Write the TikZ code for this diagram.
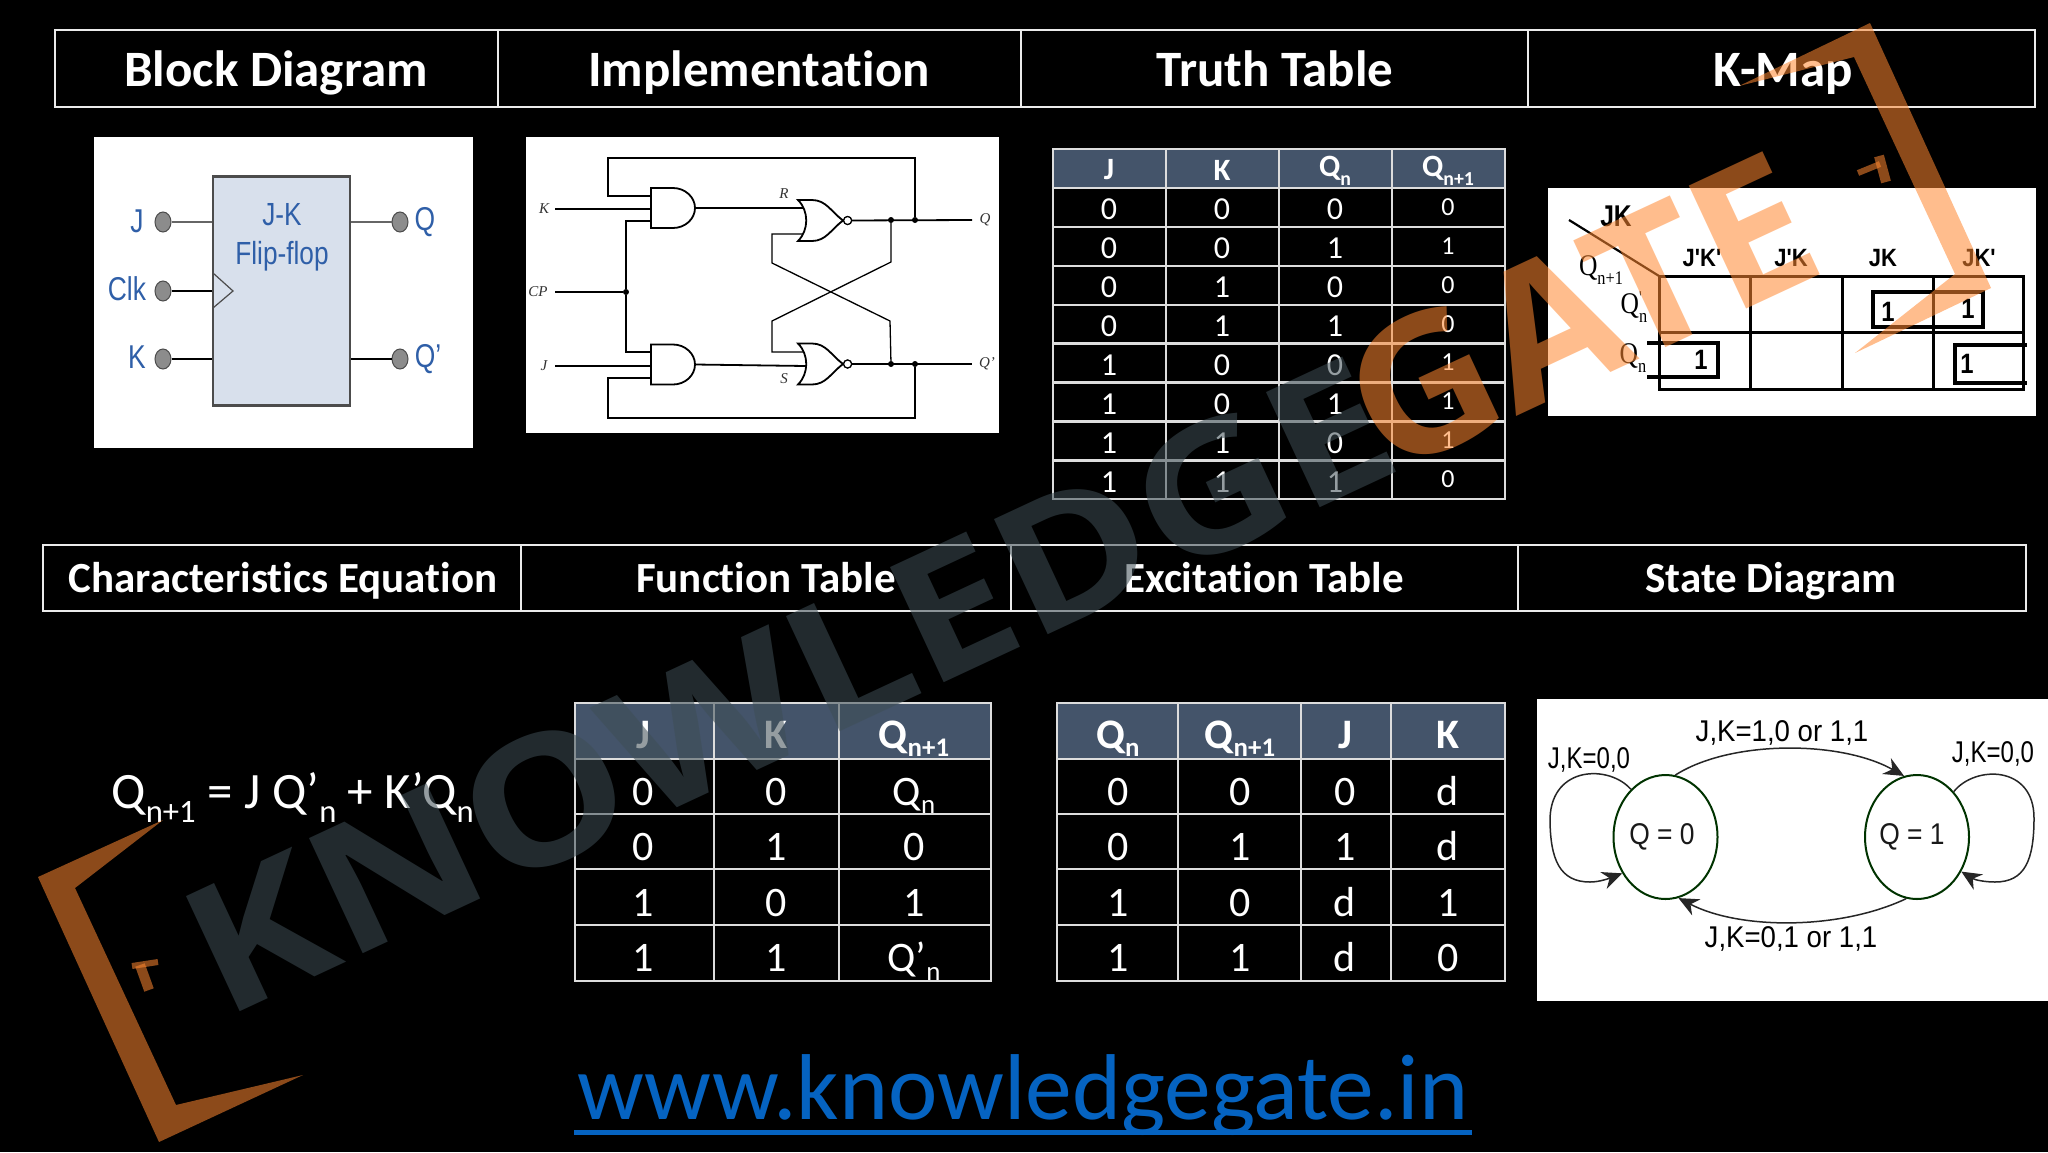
\documentclass[tikz,border=0pt]{standalone}
\usepackage{fontspec}
\usepackage{graphicx}
\setmainfont{Carlito}[Ligatures=NoCommon]
\newfontfamily\arialfont{Liberation Sans}
\newfontfamily\timesfont{Liberation Serif}
\newfontfamily\markfont{Open Sans}
\usetikzlibrary{arrows.meta,shapes.geometric}
\newcommand{\pxfont}[1]{\fontsize{#1}{#1}\selectfont}
\newcommand{\subs}[1]{\raisebox{-.28em}{\scalebox{.64}{#1}}}
\newcommand{\subt}[1]{\raisebox{-.21em}{\scalebox{.64}{#1}}}
\newcommand{\andshape}[1]{\draw[gate] (#1.north west) -- ++(22,0) .. controls +(12,0) and +(0,-11) .. (#1.east) .. controls +(0,11) and +(12,0) .. ([xshift=22pt]#1.south west) -- (#1.south west) -- cycle;}
\newcommand{\norshape}[1]{\draw[gate] (#1.north west) -- ++(14,0) .. controls +(14,0) and +(-12,-9) .. (#1.east) .. controls +(-12,9) and +(14,0) .. ([xshift=14pt]#1.south west) -- (#1.south west) .. controls +(11,-11) and +(11,11) .. (#1.north west) -- cycle;}
\definecolor{headblue}{HTML}{44546A}
\definecolor{tabgrey}{HTML}{DDDDDD}
\definecolor{ffblue}{HTML}{D8E0EC}
\definecolor{ffink}{HTML}{2F5FA8}
\definecolor{urlblue}{HTML}{0563C1}
\definecolor{markdark}{HTML}{3E4E55}
\definecolor{markorange}{HTML}{FF8830}
\tikzset{
  tabline/.style={draw=tabgrey,line width=2.4pt},
  headline/.style={draw=white!92!black,line width=2.2pt},
  title/.style={text=white,font=\pxfont{51}\bfseries,anchor=base},
  subtitle/.style={text=white,font=\pxfont{43}\bfseries,anchor=base},
  cellA/.style={text=white,font=\pxfont{32}},
  cellB/.style={text=white,font=\pxfont{26}},
  headA/.style={text=white,font=\pxfont{31}\bfseries},
  cellC/.style={text=white,font=\pxfont{42},anchor=base},
  headC/.style={text=white,font=\pxfont{42}\bfseries,anchor=base},
  wire/.style={draw=black,line width=1.8pt},
  cross/.style={draw=black,line width=1.3pt},
  joint/.style={circle,fill=black,inner sep=0pt,minimum size=6pt},
  gate/.style={draw=black,line width=1.8pt,fill=white},
  gatebox/.style={inner sep=0pt,outer sep=0pt},
  bubble/.style={circle,draw=black,fill=white,line width=1.2pt,inner sep=0pt,minimum size=8pt},
  tinyit/.style={font=\timesfont\itshape\pxfont{15},text=black!80},
  pin/.style={ellipse,draw=black!70,fill=black!45,line width=1pt,inner sep=0pt,minimum width=16pt,minimum height=20pt},
  pinlabel/.style={text=ffink,font=\arialfont\pxfont{33},xscale=.8,transform shape},
  kgrid/.style={draw=black,line width=3pt},
  kbox/.style={draw=black,line width=3.4pt},
  kserif/.style={font=\timesfont\pxfont{30},text=black,xscale=.85,transform shape},
  khead/.style={font=\arialfont\bfseries\pxfont{25},text=black,xscale=.88,transform shape},
  kone/.style={font=\arialfont\bfseries\pxfont{28},text=black,xscale=.85,transform shape},
  stateedge/.style={draw=black!85,line width=1.5pt,-{Stealth[length=20pt,width=18pt]}},
  statebub/.style={ellipse,draw=black!80!green,line width=2pt,inner sep=0pt,minimum width=104pt,minimum height=124pt},
  statetext/.style={font=\arialfont\pxfont{30},text=black!90,xscale=.88,transform shape},
  edgetext/.style={font=\arialfont\pxfont{30},text=black,xscale=.92,transform shape},
  loopnote/.style={font=\arialfont\pxfont{30},text=black,xscale=.8,transform shape},
  markA/.style={fill=markorange,opacity=.55,draw=none},
  markB/.style={font=\markfont\bfseries\pxfont{178},rotate=25,anchor=base west,opacity=.55,transform shape}
}
\begin{document}
\begin{tikzpicture}[x=1pt,y=-1pt]
\fill[black] (0,0) rectangle (2048,1152);
\useasboundingbox (0,0) rectangle (2048,1152);

% header rows
\draw[headline] (55,30) rectangle (2035,107);
\foreach \x in {498,1021,1528} \draw[headline] (\x,30) -- (\x,107);
\node[title] (tBlock) at (276,86) {Block Diagram};
\node[title] (tImpl) at (759,86) {Implementation};
\node[title] (tTruth) at (1275,86) {Truth Table};
\node[title] (tKmap) at (1783,86) {K-Map};
\draw[headline] (43,545) rectangle (2026,611);
\foreach \x in {521,1011,1518} \draw[headline] (\x,545) -- (\x,611);
\node[subtitle] (tChar) at (283,592) {Characteristics Equation};
\node[subtitle] (tFunc) at (766,592) {Function Table};
\node[subtitle] (tExc) at (1264,592) {Excitation Table};
\node[subtitle] (tState) at (1771,592) {State Diagram};

% block diagram
\fill[white] (94,137) rectangle (473,448);
\node[draw=black!70,fill=ffblue,line width=1.2pt,minimum width=137pt,minimum height=228pt,inner sep=0pt] (ff) at (281.5,291) {};
\draw[black!70,line width=3.5pt] (ff.north west) -- (ff.north east);
\draw[black!70,line width=3.5pt] (ff.south west) -- (ff.south east);
\draw[black!70,line width=1.2pt] (213,273) -- (233,291) -- (213,308);
\node[align=center,text=ffink,font=\arialfont\fontsize{32}{39}\selectfont,xscale=.82,transform shape] (ffname) at (282,237) {J-K\\Flip-flop};
\node[pin] (pJ) at (163,222) {};
\node[pin] (pClk) at (163,291) {};
\node[pin] (pK) at (163,359) {};
\node[pin] (pQ) at (400,222) {};
\node[pin] (pQb) at (400,359) {};
\draw[black!60,line width=2.4pt] (pJ) -- (pJ -| ff.west);
\draw[black,line width=2pt] (pClk) -- (pClk -| ff.west);
\draw[black,line width=2pt] (pK) -- (pK -| ff.west);
\draw[black!60,line width=2.4pt] (pQ) -- (pQ -| ff.east);
\draw[black,line width=2pt] (pQb) -- (pQb -| ff.east);
\node[pinlabel] (lJ) at (137,221) {J};
\node[pinlabel] (lClk) at (127,289) {Clk};
\node[pinlabel] (lK) at (137,357) {K};
\node[pinlabel] (lQ) at (425,222) {Q};
\node[pinlabel] (lQb) at (428,359) {Q’};

% implementation
\fill[white] (526,137) rectangle (999,433);
\node[gatebox,minimum width=44pt,minimum height=40pt] (and1) at (673,208) {};
\node[gatebox,minimum width=44pt,minimum height=40pt] (and2) at (673,364.5) {};
\node[gatebox,minimum width=45pt,minimum height=41pt] (nor1) at (820.5,220.5) {};
\node[gatebox,minimum width=45pt,minimum height=41pt] (nor2) at (820.5,364) {};
\node[bubble,right=0pt] (bub1) at (nor1.east) {};
\node[bubble,right=0pt] (bub2) at (nor2.east) {};
\node[joint] (jCP) at (626,292) {};
\node[joint] (jQa) at (891,220) {};
\node[joint] (jQb) at (915,220) {};
\node[joint] (jRa) at (891,364) {};
\node[joint] (jRb) at (915,364) {};
\coordinate (inK) at (555,209);
\coordinate (inCP) at (555,292);
\coordinate (inJ) at (555,366);
\coordinate (outQ) at (972,220);
\coordinate (outR) at (972,364);
\coordinate (a1a) at (651,196);
\coordinate (a1c) at (651,221);
\coordinate (a2a) at (651,352);
\coordinate (a2c) at (651,378);
\coordinate (n1a) at (804,208);
\coordinate (n1b) at (806,234);
\coordinate (n2a) at (805,352);
\coordinate (n2b) at (806,366);
\draw[wire] (inK) -- (inK -| and1.west);
\draw[wire] (inJ) -- (inJ -| and2.west);
\draw[wire] (inCP) -- (jCP);
\draw[wire] (a1c) -| (jCP) |- (a2a);
\draw[wire] (a1a) -| (608,158) -| (jQb);
\draw[wire] (a2c) -| (608,418) -| (jRb);
\draw[wire] (and1.east) -- (n1a);
\draw[wire] (and2.east) -- (n2b);
\draw[wire] (bub1) -- (outQ);
\draw[wire] (bub2) -- (outR);
\draw[cross] (n1b) -- (772,234) -- (772,263) -- (890,321) -- (jRa);
\draw[cross] (n2a) -- (772,352) -- (772,321) -- (891,262) -- (jQa);
\andshape{and1}
\andshape{and2}
\norshape{nor1}
\norshape{nor2}
\node[bubble] (bub1t) at (bub1) {};
\node[bubble] (bub2t) at (bub2) {};
\node[tinyit] (lK2) at (544,209) {K};
\node[tinyit] (lCP) at (538,292) {CP};
\node[tinyit] (lJ2) at (544,366) {J};
\node[tinyit] (lQ2) at (985,220) {Q};
\node[tinyit] (lQb2) at (987,364) {Q’};
\node[tinyit] (lR) at (784,194) {R};
\node[tinyit] (lS) at (784,379) {S};

% truth table
\fill[headblue] (1053,149) rectangle (1505,188);
\foreach \r in {0,...,8} \draw[tabline] (1053,{188+38.9*\r}) -- (1505,{188+38.9*\r});
\foreach \x in {1166,1279,1392} \draw[tabline] (\x,149) -- (\x,499);
\draw[tabline] (1053,149) rectangle (1505,499);
\node[headA] (hJ) at (1109,170) {J};
\node[headA] (hK) at (1222,170) {K};
\node[headA] (hQ) at (1335,171) {Q\subs{n}};
\node[headA] (hQn) at (1448,171) {Q\subs{n+1}};
\foreach \a/\b/\c/\d [count=\r] in {0/0/0/0,0/0/1/1,0/1/0/0,0/1/1/0,1/0/0/1,1/0/1/1,1/1/0/1,1/1/1/0}{
  \node[cellA] (ttA\r) at (1109,{190+38.9*(\r-.5)}) {\a};
  \node[cellA] (ttB\r) at (1222,{190+38.9*(\r-.5)}) {\b};
  \node[cellA] (ttC\r) at (1335,{190+38.9*(\r-.5)}) {\c};
  \node[cellB] (ttD\r) at (1448,{187.5+38.9*(\r-.5)}) {\d};
}

% k-map
\fill[white] (1548,188) rectangle (2036,416);
\draw[kgrid] (1659,276) rectangle (2023,389);
\foreach \x in {1750,1842,1933} \draw[kgrid] (\x,276) -- (\x,389);
\draw[kgrid] (1659,332) -- (2023,332);
\draw[black,line width=2.2pt] (1569,220) -- (1659,276);
\node[font=\arialfont\bfseries\pxfont{30},text=black,xscale=.82,transform shape] (kJK) at (1616,216) {JK};
\node[kserif] (kQn) at (1601,270) {Q\subs{n+1}};
\node[kserif] (kQa) at (1634,307) {Q\rlap{\raisebox{.35em}{\scalebox{.6}{'}}}\subs{n}};
\node[kserif] (kQb) at (1633,358) {Q\subs{n}};
\node[khead] (k1) at (1702,258) {J'K'};
\node[khead] (k2) at (1791,258) {J'K};
\node[khead] (k3) at (1883,258) {JK};
\node[khead] (k4) at (1979,258) {JK'};
\draw[kbox] (1873,292) rectangle (1983,327);
\draw[kbox] (1647,343) -- (1718,343) -- (1718,377) -- (1647,377);
\draw[kbox] (2027,345) -- (1955,345) -- (1955,383) -- (2027,383);
\node[kone] (o1) at (1888,312) {1};
\node[kone] (o2) at (1968,309) {1};
\node[kone] (o3) at (1701,360) {1};
\node[kone] (o4) at (1967,364) {1};

% equation
\node[anchor=base west,text=white,font=\pxfont{51}] (eqn) at (108,808) {Q\subs{n+1} = J Q’\subs{n} + K’Q\subs{n}};

% function table
\fill[headblue] (575,703) rectangle (991,759);
\foreach \y in {759,814,869,925} \draw[tabline] (575,\y) -- (991,\y);
\foreach \x in {714,839} \draw[tabline] (\x,703) -- (\x,981);
\draw[tabline] (575,703) rectangle (991,981);
\node[headC] (fJ) at (643,748) {J};
\node[headC] (fK) at (776,748) {K};
\node[headC] (fQ) at (914,748) {Q\subt{n+1}};
\foreach \a/\b/\c [count=\r] in {0/0/Q\subt{n},0/1/0,1/0/1,1/1/Q’\subt{n}}{
  \node[cellC] (ftA\r) at (643,{805+55.5*(\r-1)}) {\a};
  \node[cellC] (ftB\r) at (776,{805+55.5*(\r-1)}) {\b};
  \node[cellC] (ftC\r) at (914,{805+55.5*(\r-1)}) {\c};
}

% excitation table
\fill[headblue] (1057,703) rectangle (1505,759);
\foreach \y in {759,814,869,925} \draw[tabline] (1057,\y) -- (1505,\y);
\foreach \x in {1178,1301,1391} \draw[tabline] (\x,703) -- (\x,981);
\draw[tabline] (1057,703) rectangle (1505,981);
\node[headC] (eQ) at (1118,748) {Q\subt{n}};
\node[headC] (eQn) at (1240,748) {Q\subt{n+1}};
\node[headC] (eJ) at (1345,748) {J};
\node[headC] (eK) at (1448,748) {K};
\foreach \a/\b/\c/\d [count=\r] in {0/0/0/d,0/1/1/d,1/0/d/1,1/1/d/0}{
  \node[cellC] (etA\r) at (1118,{805+55.5*(\r-1)}) {\a};
  \node[cellC] (etB\r) at (1240,{805+55.5*(\r-1)}) {\b};
  \node[cellC] (etC\r) at (1345,{805+55.5*(\r-1)}) {\c};
  \node[cellC] (etD\r) at (1448,{805+55.5*(\r-1)}) {\d};
}

% state diagram
\fill[white] (1537,699) rectangle (2048,1001);
\node[statebub] (q0) at (1665.5,837) {};
\node[statebub] (q1) at (1917,837) {};
\node[statetext] (q0t) at (1662,837) {Q = 0};
\node[statetext] (q1t) at (1912,837) {Q = 1};
\draw[stateedge] (q0.81) .. controls (1730,740) and (1840,740) .. (q1.102);
\draw[stateedge] (q1.260) .. controls (1840,930) and (1740,930) .. (q0.282);
\draw[stateedge] (q0.126) .. controls (1610,765) and (1552,765) .. (1550,818) .. controls (1550,860) and (1560,882) .. (1590,882) .. controls (1600,882) and (1610,878) .. (q0.220);
\draw[stateedge] (q1.51) .. controls (1975,765) and (2034,765) .. (2034,818) .. controls (2034,860) and (2025,882) .. (1995,882) .. controls (1985,882) and (1975,880) .. (q1.-38);
\node[edgetext] (e10) at (1782,733) {J,K=1,0 or 1,1};
\node[edgetext] (e01) at (1791,939) {J,K=0,1 or 1,1};
\node[loopnote] (e00a) at (1589,760) {J,K=0,0};
\node[loopnote] (e00b) at (1993,754) {J,K=0,0};

% url
\node[anchor=base,text=urlblue,font=\pxfont{93.5}] (url) at (1023,1119) {www.knowledgegate.in};
\draw[urlblue,line width=5pt] ([yshift=-13pt]url.base west) -- ([yshift=-13pt]url.base east);

% watermark
\fill[markA] (163,820) -- (38,877) -- (159,1142) -- (303,1075) -- (176,1105) -- (75,888) -- cycle;
\fill[markA] (1739,86) -- (1870,23) -- (1991,288) -- (1855,353) -- (1955,274) -- (1854,57) -- cycle;
\draw[markorange,opacity=.55,line width=10pt] (140,965) -- (149,990);
\draw[markorange,opacity=.55,line width=6pt] (132,966) -- (158,962);
\draw[markorange,opacity=.55,line width=10pt] (1879,156) -- (1886,182);
\draw[markorange,opacity=.55,line width=6pt] (1858,173) -- (1880,164);
\node[markB,text=markdark,xscale=1.15] (wmA) at (220,1021) {KNOWLEDGE};
\node[markB,text=markorange,font=\markfont\bfseries\pxfont{190},xscale=1.04] (wmB) at (1383,479) {GATE};
\end{tikzpicture}
\end{document}
